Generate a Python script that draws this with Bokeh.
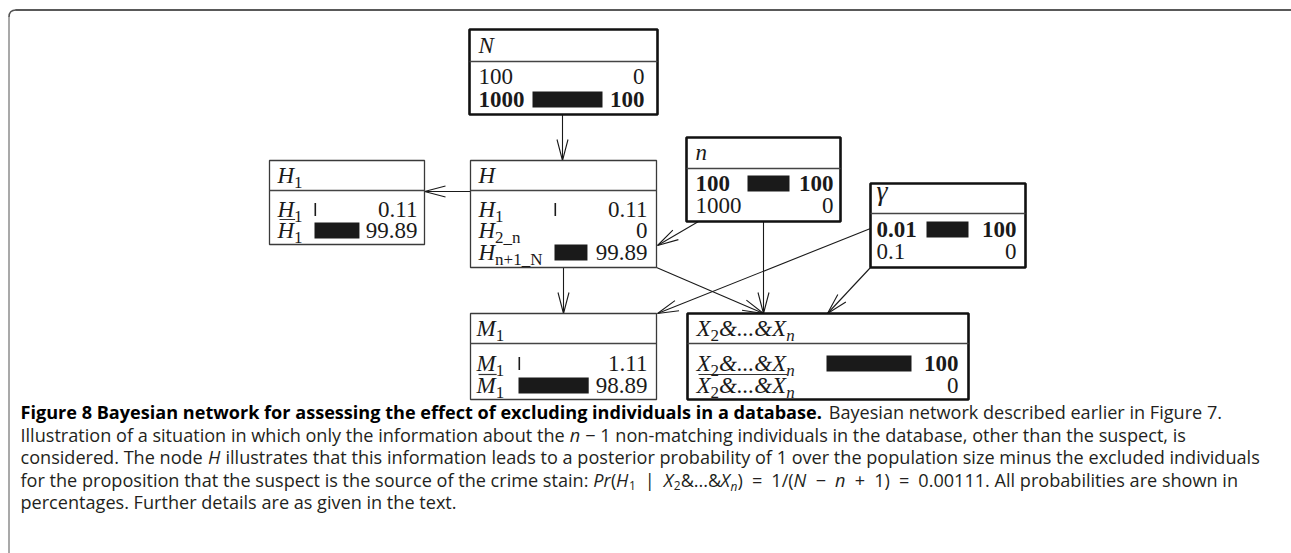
from bokeh.plotting import figure
from bokeh.models import Range1d
from bokeh.core.properties import value
from bokeh.embed import file_html
from bokeh.resources import INLINE
import math

# ---------------- data ----------------
N_states = ["100", "1000"]
N_probs = [0, 100]
H1_states = ["H1", "H1bar"]
H1_probs = [0.11, 99.89]
H_states = ["H1", "H2_n", "Hn+1_N"]
H_probs = [0.11, 0, 99.89]
n_states = ["100", "1000"]
n_probs = [100, 0]
gamma_states = ["0.01", "0.1"]
gamma_probs = [100, 0]
M1_states = ["M1", "M1bar"]
M1_probs = [1.11, 98.89]
X_states = ["X2&...&Xn", "X2&...&Xn_bar"]
X_probs = [100, 0]
evidence_nodes = ["N", "n", "gamma", "X"]
edges = [("N", "H"), ("H", "H1"), ("n", "H"), ("H", "M1"), ("H", "X"),
         ("n", "X"), ("gamma", "M1"), ("gamma", "X")]

nodes = {
    "N": (N_states, N_probs),
    "H1": (H1_states, H1_probs),
    "H": (H_states, H_probs),
    "n": (n_states, n_probs),
    "gamma": (gamma_states, gamma_probs),
    "M1": (M1_states, M1_probs),
    "X": (X_states, X_probs),
}

# text markup: (text, kind) kind: r roman, i italic, s subscript, si subscript italic
titles = {
    "N": [("N", "i")],
    "H1": [("H", "i"), ("1", "s")],
    "H": [("H", "i")],
    "n": [("n", "i")],
    "gamma": [("γ", "g")],
    "M1": [("M", "i"), ("1", "s")],
    "X": [("X", "i"), ("2", "s"), ("&...&", "i"), ("X", "i"), ("n", "si")],
}
state_markup = {
    "H1": ([("H", "i"), ("1", "s")], False),
    "H1bar": ([("H", "i"), ("1", "s")], True),
    "H2_n": ([("H", "i"), ("2_n", "s")], False),
    "Hn+1_N": ([("H", "i"), ("n+1_N", "s")], False),
    "M1": ([("M", "i"), ("1", "s")], False),
    "M1bar": ([("M", "i"), ("1", "s")], True),
    "X2&...&Xn": ([("X", "i"), ("2", "s"), ("&...&", "i"), ("X", "i"), ("n", "si")], False),
    "X2&...&Xn_bar": ([("X", "i"), ("2", "s"), ("&...&", "i"), ("X", "i"), ("n", "si")], True),
}

EN = "\u2002"
caption_lines = [
    [("Figure 8 Bayesian network for assessing the effect of excluding individuals in a database.", "b"),
     (" Bayesian network described earlier in Figure 7.", "r")],
    [("Illustration of a situation in which only the information about the ", "r"), ("n", "i"),
     (" − 1 non-matching individuals in the database, other than the suspect, is", "r")],
    [("considered. The node ", "r"), ("H", "i"),
     (" illustrates that this information leads to a posterior probability of 1 over the population size minus the excluded individuals", "r")],
    [("for the proposition that the suspect is the source of the crime stain: ", "r"), ("Pr", "i"), ("(", "r"),
     ("H", "i"), ("1", "sub"), (EN + "|" + EN, "r"), ("X", "i"), ("2", "sub"), ("&...&", "r"), ("X", "i"),
     ("n", "subi"), (")" + EN + "=" + EN + "1/(", "r"), ("N", "i"), (EN + "−" + EN, "r"), ("n", "i"),
     (EN + "+" + EN + "1)" + EN + "=" + EN + "0.00111. All probabilities are shown in", "r")],
    [("percentages. Further details are as given in the text.", "r")],
]

# ---------------- layout (pixels, page coordinates) ----------------
L = {
    "N": dict(x0=469, x1=657, top=29, sep=61, bottom=114, hb=53, rows=[84, 107], lx=478, vx=644, bx=532, bw=70),
    "H1": dict(x0=269, x1=424, top=160, sep=190, bottom=244, hb=183, rows=[217, 238], lx=277, vx=417, bx=314, bw=45),
    "H": dict(x0=470, x1=656, top=160, sep=190, bottom=267, hb=183, rows=[217, 238, 260], lx=478, vx=647, bx=554, bw=33),
    "n": dict(x0=686, x1=840, top=137, sep=168, bottom=221, hb=160, rows=[191, 213], lx=695, vx=833, bx=747, bw=42),
    "gamma": dict(x0=870, x1=1025, top=183, sep=213, bottom=267, hb=200, rows=[237, 259], lx=876, vx=1016, bx=926, bw=42),
    "M1": dict(x0=470, x1=656, top=313, sep=343, bottom=399, hb=336, rows=[371, 393], lx=476, vx=647, bx=518, bw=71),
    "X": dict(x0=687, x1=968, top=313, sep=343, bottom=399, hb=336, rows=[371, 393], lx=696, vx=958, bx=826, bw=85),
}
edge_pts = {
    ("N", "H"): (562, 114, 562, 160),
    ("H", "H1"): (470, 191, 424, 191),
    ("n", "H"): (698, 221, 657, 245),
    ("H", "M1"): (563, 267, 563, 313),
    ("H", "X"): (656, 267, 763, 313),
    ("n", "X"): (763, 221, 763, 313),
    ("gamma", "M1"): (870, 228, 657, 313),
    ("gamma", "X"): (870, 267, 827, 313),
}
MAIN = 23
SUB = 17
DROP = 5
INK = "#1a1a1a"
BASE_FIX = 0.34   # alphabetic-baseline correction (fraction of font size)

T_R = {"0": .5, "1": .5, "2": .5, "3": .5, "4": .5, "5": .5, "6": .5, "7": .5, "8": .5, "9": .5,
       ".": .25, "_": .5, "+": .564, "n": .5, "N": .722}
T_I = {"H": .722, "M": .833, "X": .611, "N": .667, "n": .5, "&": .778, ".": .25, "γ": .44}


def tw(text, kind, size):
    table = T_I if kind in ("i", "si", "g") else T_R
    return sum(table.get(c, .5) for c in text) * size


OS = {' ': 260, 'a': 556, 'b': 613, 'c': 476, 'd': 613, 'e': 561, 'f': 339, 'g': 548, 'h': 614, 'i': 253,
      'j': 253, 'k': 525, 'l': 253, 'm': 930, 'n': 614, 'o': 604, 'p': 613, 'q': 613, 'r': 408, 's': 477,
      't': 353, 'u': 614, 'v': 501, 'w': 778, 'x': 524, 'y': 502, 'z': 466, '.': 266, ',': 250, ':': 266,
      '-': 322, '(': 286, ')': 286, '/': 367, '=': 572, '+': 572, '−': 572, '&': 701, '|': 551,
      'A': 633, 'B': 648, 'F': 516, 'H': 738, 'I': 279, 'N': 760, 'P': 604, 'T': 561, 'X': 579,
      EN: 500}
for d in "0123456789":
    OS[d] = 572


def ow(text, kind, size):
    f = {"b": 1.078, "i": 0.96, "subi": 0.96}.get(kind, 1.0)
    return sum(OS.get(c, 560) for c in text) / 1000.0 * size * f


texts = []  # (x, y, text, font, size, style, align, color)


def add_text(x, base, t, font, size, style, align="left", color=INK):
    texts.append((x, base - BASE_FIX * size, t, font, size, style, align, color))


def draw_pieces(pieces, x, base, bold=False):
    for t, k in pieces:
        if k in ("s", "si"):
            size, y = SUB, base + DROP
        elif k == "g":
            size, y = 28, base
        else:
            size, y = MAIN, base
        style = {"r": "bold" if bold else "normal", "i": "italic", "s": "normal",
                 "si": "italic", "g": "italic"}[k]
        add_text(x, y, t, "Liberation Serif", size, style)
        x += tw(t, k, size)
    return x


p = figure(width=1291, height=553, x_range=Range1d(0, 1291), y_range=Range1d(553, 0),
           output_backend="svg", toolbar_location=None, min_border=0,
           x_axis_type=None, y_axis_type=None)
p.grid.visible = False
p.outline_line_color = None
p.background_fill_color = "white"
p.border_fill_color = "white"

# frame (top rule and left rule with rounded corner)
p.line(x=[15, 1291], y=[9.5, 9.5], line_color="#222222", line_width=1.6)
p.line(x=[8.5, 8.5], y=[16, 553], line_color="#8c8c8c", line_width=1.5)
p.quadratic(x0=[8.5], y0=[16.5], x1=[15.5], y1=[9.5], cx=[8.5], cy=[9.5], line_color="#555555", line_width=1.5)

# edges with narrow open arrowheads
ex0, ey0, ex1, ey1 = [], [], [], []
hx, hy = [], []
for e in edges:
    x0, y0, x1, y1 = edge_pts[e]
    ex0.append(x0); ey0.append(y0); ex1.append(x1); ey1.append(y1)
    dx, dy = x1 - x0, y1 - y0
    d = math.hypot(dx, dy)
    ux, uy = dx / d, dy / d
    bxp, byp = x1 - 21 * ux, y1 - 21 * uy
    px_, py_ = -uy, ux
    hx.append([bxp + 5.5 * px_, x1, bxp - 5.5 * px_])
    hy.append([byp + 5.5 * py_, y1, byp - 5.5 * py_])
p.segment(x0=ex0, y0=ey0, x1=ex1, y1=ey1, line_color=INK, line_width=1.1)
p.multi_line(xs=hx, ys=hy, line_color=INK, line_width=1.1)

# nodes
bar_l, bar_r, bar_t, bar_b = [], [], [], []
over_x0, over_x1, over_y = [], [], []
for name, (states, probs) in nodes.items():
    g = L[name]
    ev = name in evidence_nodes
    lw = 2.6 if ev else 1.3
    col = "#111111" if ev else "#3a3a3a"
    p.quad(left=[g["x0"]], right=[g["x1"]], top=[g["top"]], bottom=[g["bottom"]],
           fill_color="white", line_color=col, line_width=lw)
    p.segment(x0=[g["x0"]], y0=[g["sep"]], x1=[g["x1"]], y1=[g["sep"]],
              line_color="#444444", line_width=1.6 if ev else 1.3)
    draw_pieces(titles[name], g["lx"], g["hb"])
    for i, (s, v) in enumerate(zip(states, probs)):
        base = g["rows"][i]
        bold = ev and v == 100
        pieces, neg = state_markup.get(s, ([(s, "r")], False))
        draw_pieces(pieces, g["lx"], base, bold=bold)
        if neg:
            w = sum(tw(t, k, SUB if k in ("s", "si") else MAIN) for t, k in pieces[:-1])
            over_x0.append(g["lx"] + 2); over_x1.append(g["lx"] + w + 1); over_y.append(base - 19)
        add_text(g["vx"], base, f"{v:g}", "Liberation Serif", MAIN, "bold" if bold else "normal", "right")
        if v > 0:
            w = max(v / 100.0 * g["bw"], 1.6)
            h = 8 if w > 2 else 6.5
            c = base - 8
            bar_l.append(g["bx"]); bar_r.append(g["bx"] + w)
            bar_t.append(c - h); bar_b.append(c + h)
p.quad(left=bar_l, right=bar_r, top=bar_t, bottom=bar_b, fill_color=INK, line_color=None)
p.segment(x0=over_x0, y0=over_y, x1=over_x1, y1=over_y, line_color="#333333", line_width=1.2)

# caption
CAP = 18.1
cap_base = [418, 440.5, 463, 485.5, 508]
for line, yb in zip(caption_lines, cap_base):
    x = 20.0
    for t, k in line:
        if k in ("sub", "subi"):
            size, y = CAP * 0.66, yb + 4
        else:
            size, y = CAP, yb
        lead = len(t) - len(t.lstrip(" "))
        body = t.strip(" ")
        trail = len(t) - len(t.rstrip(" "))
        x += ow(" " * lead, "r", size)
        style = {"r": "normal", "b": "bold", "i": "italic", "sub": "normal", "subi": "italic"}[k]
        add_text(x, y, body, "Open Sans", size, style, "left", "#000000" if k == "b" else "#231f20")
        x += ow(body, k, size) + ow(" " * trail, "r", size)

# render texts grouped by font properties
groups = {}
for (x, y, t, font, size, style, align, color) in texts:
    groups.setdefault((font, size, style, align, color), ([], [], []))
    gx, gy, gt = groups[(font, size, style, align, color)]
    gx.append(x); gy.append(y); gt.append(t)
for (font, size, style, align, color), (gx, gy, gt) in groups.items():
    p.text(x=gx, y=gy, text=gt, text_font=value(font), text_font_size=value(f"{size}px"),
           text_font_style=value(style), text_align=value(align), text_baseline=value("alphabetic"),
           text_color=color)

open("out.html", "w").write(file_html(p, INLINE))
